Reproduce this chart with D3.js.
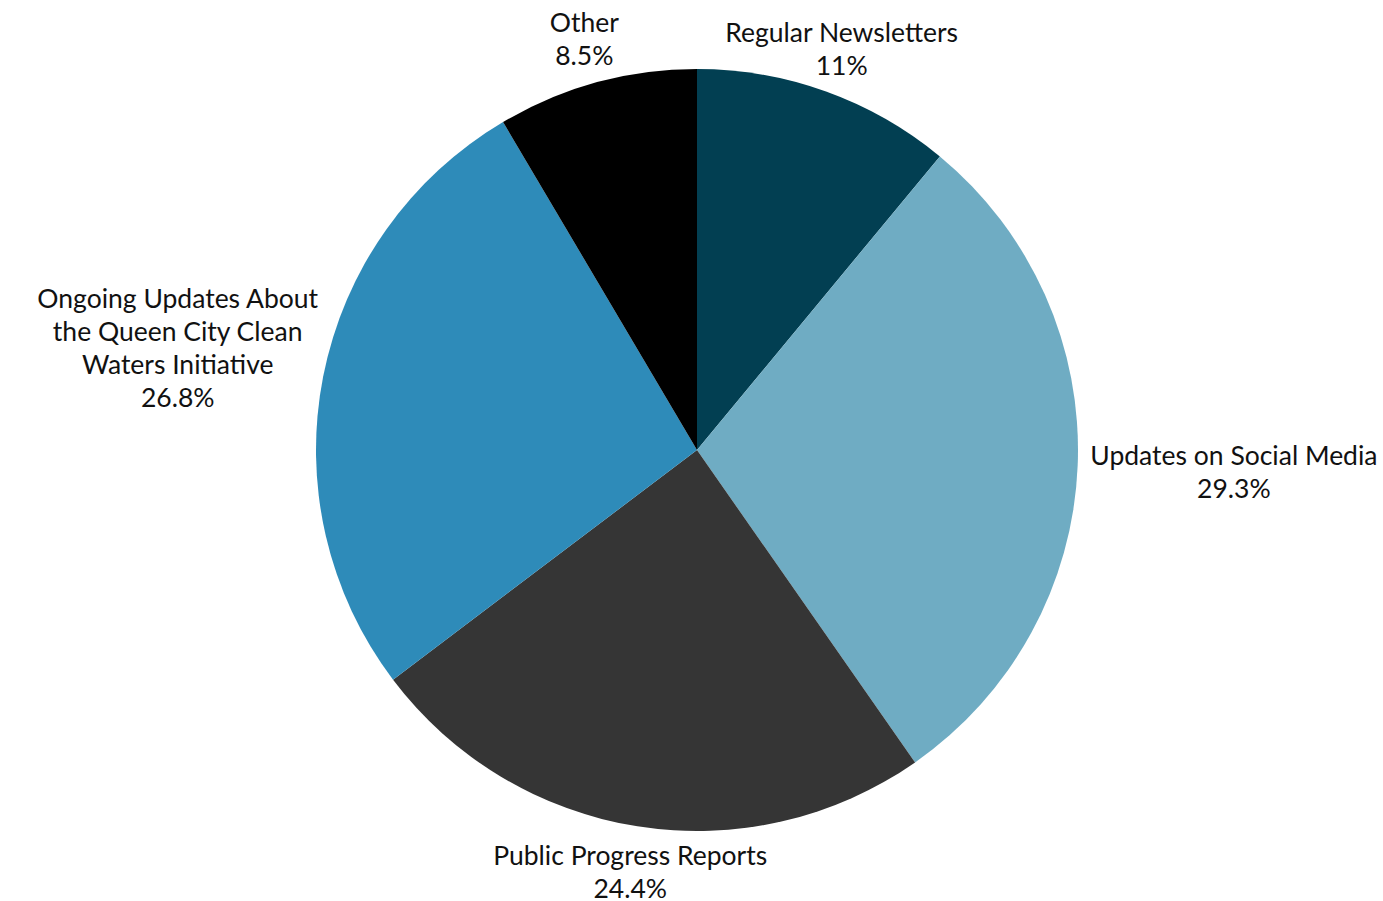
<!DOCTYPE html>
<html>
<head>
<meta charset="utf-8">
<script src="https://cdn.jsdelivr.net/npm/d3@7"></script>
<style>
  html, body { margin: 0; padding: 0; background: #ffffff; }
  svg { display: block; }
  text { font-family: Lato, "Noto Sans", sans-serif; font-size: 26.5px; fill: #111111; }
</style>
</head>
<body>
<svg id="chart" width="1383" height="901"></svg>
<script>
const categories = [
  "Regular Newsletters",
  "Updates on Social Media",
  "Public Progress Reports",
  "Ongoing Updates About\nthe Queen City Clean\nWaters Initiative",
  "Other"
];
const values = [11, 29.3, 24.4, 26.8, 8.5];
const valueLabels = ["11%", "29.3%", "24.4%", "26.8%", "8.5%"];
const colors = ["#023f52", "#6facc3", "#353535", "#2e8bb9", "#000000"];

const W = 1383, H = 901;
const cx = 697, cy = 450, R = 381;
const lineH = 33;

const svg = d3.select("#chart");
const g = svg.append("g").attr("transform", `translate(${cx},${cy})`);

const data = categories.map((c, i) => ({ name: c, value: values[i], label: valueLabels[i], color: colors[i] }));
const pie = d3.pie().value(d => d.value).sort(null);
const arc = d3.arc().innerRadius(0).outerRadius(R);
const arcs = pie(data);

g.selectAll("path.slice")
  .data(arcs)
  .join("path")
  .attr("class", "slice")
  .attr("d", arc)
  .attr("fill", d => d.data.color);

const labels = g.selectAll("g.label")
  .data(arcs)
  .join("g")
  .attr("class", "label");

labels.each(function(d) {
  const lines = d.data.name.split("\n").concat([d.data.label]);
  const t = d3.select(this).append("text").attr("text-anchor", "middle");
  lines.forEach((ln, i) => {
    t.append("tspan").attr("x", 0).attr("y", i * lineH).text(ln);
  });
  const bb = t.node().getBBox();
  const halfW = bb.width / 2;
  const mid = (d.startAngle + d.endAngle) / 2;
  const s = Math.sin(mid), c = Math.cos(mid);
  const dist = Math.max(R + 46, R + 13 + halfW * s * s);
  const px = dist * s, py = -dist * c;
  const by = bb.y + bb.height / 2;
  t.attr("transform", `translate(${px},${py - by})`);
});
</script>
</body>
</html>
